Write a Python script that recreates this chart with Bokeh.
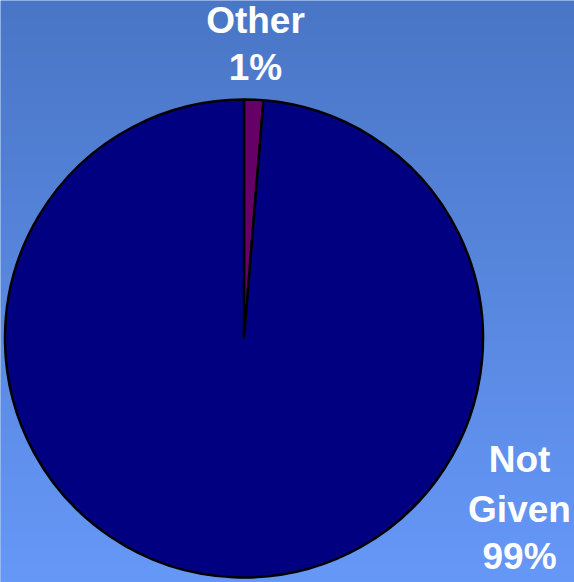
import numpy as np
from bokeh.plotting import figure
from bokeh.models import ColumnDataSource
from bokeh.core.properties import value
from bokeh.embed import file_html
from bokeh.resources import INLINE

# ---- data ----
categories = ["Other", "Not Given"]
values = [1.3, 98.7]
pct_labels = ["1%", "99%"]
colors = ["#660066", "#000080"]

W, H = 574, 582
p = figure(width=W, height=H, x_range=(0, W), y_range=(0, H),
           output_backend="svg", toolbar_location=None, min_border=0)
p.axis.visible = False
p.grid.visible = False
p.outline_line_color = None
p.background_fill_color = "#5888dc"
p.border_fill_color = "#5888dc"

# vertical gradient background
top = np.array([0x4a, 0x76, 0xc6], dtype=float)
bot = np.array([0x66, 0x98, 0xf8], dtype=float)
n = 256
t = np.linspace(0, 1, n)[:, None]  # row 0 = bottom
cols = bot * (1 - t) + top * t
img = np.empty((n, 1), dtype=np.uint32)
view = img.view(dtype=np.uint8).reshape((n, 1, 4))
view[:, 0, 0] = cols[:, 0].astype(np.uint8)
view[:, 0, 1] = cols[:, 1].astype(np.uint8)
view[:, 0, 2] = cols[:, 2].astype(np.uint8)
view[:, 0, 3] = 255
p.image_rgba(image=[img], x=0, y=0, dw=W, dh=H)

# pie
total = sum(values)
fracs = np.array(values) / total
ends = np.cumsum(fracs)
starts = np.concatenate([[0], ends[:-1]])
start_ang = np.pi / 2 - starts * 2 * np.pi
end_ang = np.pi / 2 - ends * 2 * np.pi
src = ColumnDataSource(dict(start=start_ang, end=end_ang, color=colors, cat=categories))
cx, cy, r = 243.5, H - 338, 239
p.wedge(x=cx, y=cy, radius=r, start_angle="start", end_angle="end",
        direction="clock", fill_color="color", line_color="black", line_width=2.5,
        source=src)

# labels (pixel baselines from top, corrected for renderer offset)
off = 16
lab_x = [255, 255, 519, 519, 519]
lab_b = [36, 83, 475, 525, 572]
lab_y = [H - (b - off) for b in lab_b]
lab_t = [categories[0], pct_labels[0], "Not", "Given", pct_labels[1]]
p.text(x=lab_x, y=lab_y, text=lab_t, text_color="white",
       text_font=value("Liberation Sans"), text_font_style="bold",
       text_font_size="37px", text_align="center", text_baseline="alphabetic")

html = file_html(p, INLINE)
html = html.replace("<body>", '<body style="margin:0;overflow:hidden">', 1)
open("out.html", "w").write(html)
